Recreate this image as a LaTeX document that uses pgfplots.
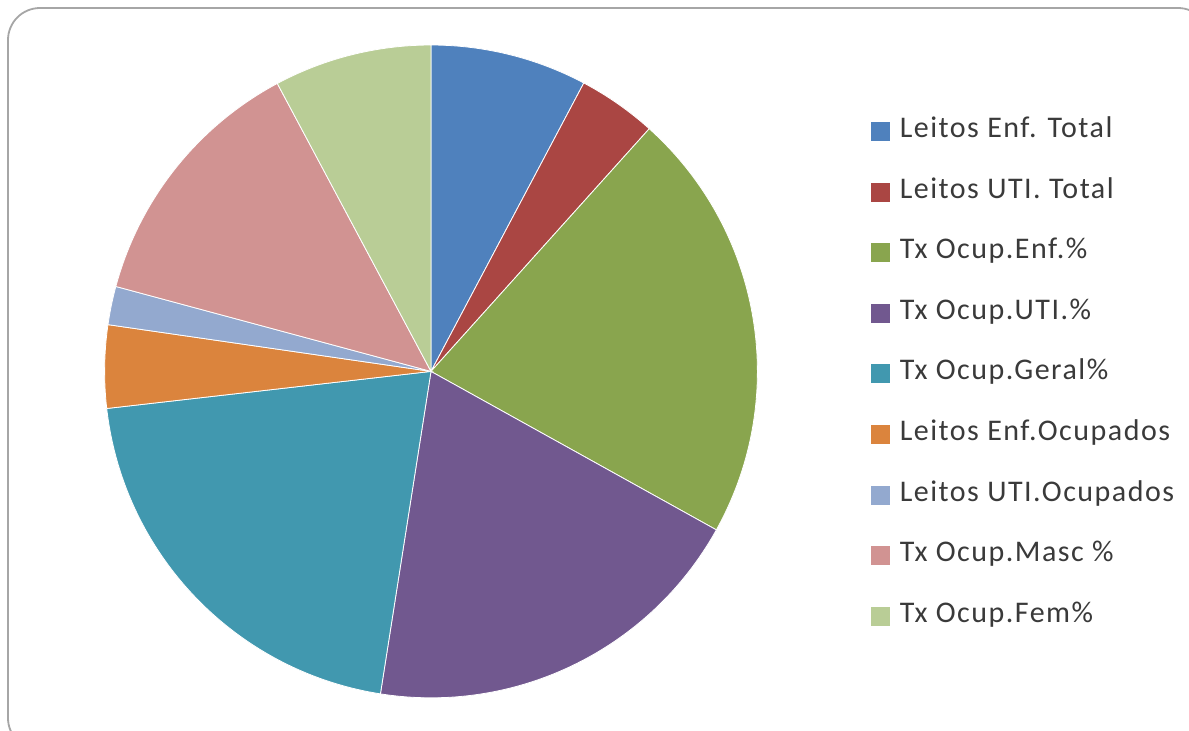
\documentclass[border=0pt]{standalone}
\usepackage{pgfplots}
\pgfplotsset{compat=1.18}
\usepackage{pgfplotstable}
\usepackage{fontspec}
\setmainfont{Carlito}
\newfontfamily\legfont{Carlito}[LetterSpace=5]

\definecolor{s0}{HTML}{4F81BD}
\definecolor{s1}{HTML}{AA4643}
\definecolor{s2}{HTML}{89A54E}
\definecolor{s3}{HTML}{71588F}
\definecolor{s4}{HTML}{4198AF}
\definecolor{s5}{HTML}{DB843D}
\definecolor{s6}{HTML}{93A9CF}
\definecolor{s7}{HTML}{D19392}
\definecolor{s8}{HTML}{B9CD96}
\definecolor{legtext}{HTML}{3A3A3A}

% share of each slice, clockwise from 12 o'clock
\pgfplotstableread{
value
7.75
3.90
21.4
19.4
20.7
4.10
1.90
13.0
7.80
}\piedata

% cumulative angles
\pgfplotstablegetrowsof{\piedata}%
\pgfmathtruncatemacro\nrows{\pgfplotsretval-1}%
\def\total{0}%
\pgfplotsforeachungrouped \i in {0,...,\nrows}{%
  \pgfplotstablegetelem{\i}{value}\of\piedata
  \pgfmathsetmacro\total{\total+\pgfplotsretval}}%
\def\acc{90}%
\pgfplotsforeachungrouped \i in {0,...,\nrows}{%
  \pgfplotstablegetelem{\i}{value}\of\piedata
  \pgfmathsetmacro\nxt{\acc-\pgfplotsretval/\total*360}%
  \expandafter\xdef\csname pieA\i\endcsname{\acc}%
  \expandafter\xdef\csname pieB\i\endcsname{\nxt}%
  \global\let\acc\nxt}%

\begin{document}%
\begin{tikzpicture}
\begin{scope}
  \clip (0pt,0pt) rectangle (594.5pt,-365pt);
  \draw[gray!70, line width=0.9pt, rounded corners=16pt] (4pt,-4pt) rectangle (605pt,-375pt);
\end{scope}
\begin{axis}[
  at={(215.5pt,-185.7pt)}, anchor=center,
  width=326pt, height=326pt, scale only axis,
  xmin=-1, xmax=1, ymin=-1, ymax=1,
  hide axis, clip=false,
  legend image code/.code={\fill[#1] (0pt,-4.5pt) rectangle (9pt,4.5pt);},
  legend cell align=left,
  legend style={
    at={(1.1748,0.8865)}, anchor=north west,
    draw=none, fill=none, inner sep=0pt, outer sep=0pt,
    font=\legfont\fontsize{15}{18}\selectfont, text=legtext,
    nodes={text height=9pt, text depth=3pt, inner sep=0pt},
    row sep=18.3pt, column sep=5pt
  }
]
\pgfplotsinvokeforeach{0,...,8}{
  \fill[s#1, draw=white, line width=0.4pt] (axis cs:0,0)
    -- ++(\csname pieA#1\endcsname:163.2pt)
    arc[start angle=\csname pieA#1\endcsname, end angle=\csname pieB#1\endcsname, radius=163.2pt]
    -- cycle;
}
\addlegendimage{s0}\addlegendentry{Leitos Enf. Total}
\addlegendimage{s1}\addlegendentry{Leitos UTI. Total}
\addlegendimage{s2}\addlegendentry{Tx Ocup.Enf.\%}
\addlegendimage{s3}\addlegendentry{Tx Ocup.UTI.\%}
\addlegendimage{s4}\addlegendentry{Tx Ocup.Geral\%}
\addlegendimage{s5}\addlegendentry{Leitos Enf.Ocupados}
\addlegendimage{s6}\addlegendentry{Leitos UTI.Ocupados}
\addlegendimage{s7}\addlegendentry{Tx Ocup.Masc \%}
\addlegendimage{s8}\addlegendentry{Tx Ocup.Fem\%}
\end{axis}
\pgfresetboundingbox
\useasboundingbox (0pt,0pt) rectangle (594.5pt,-365pt);
\end{tikzpicture}%
\end{document}
